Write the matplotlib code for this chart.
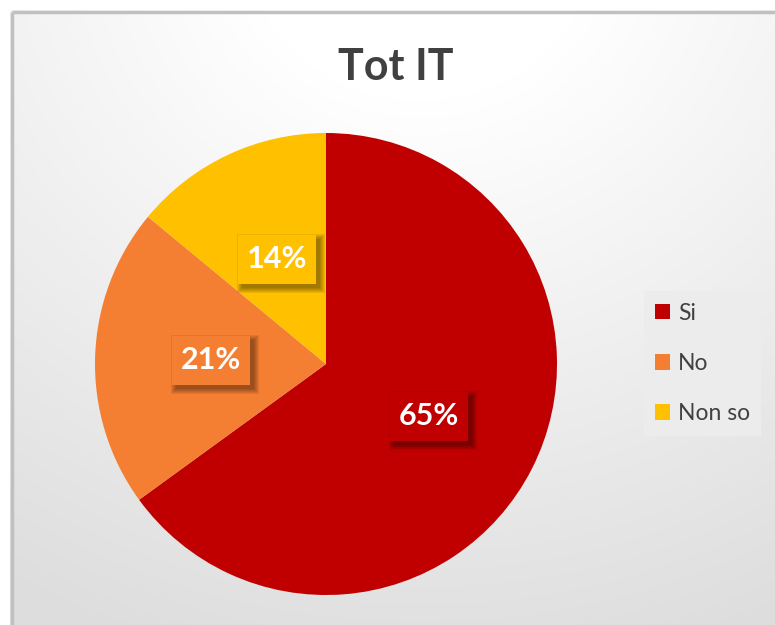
import numpy as np
import matplotlib
matplotlib.use("Agg")
import matplotlib.pyplot as plt
from matplotlib.patches import Patch, Rectangle

plt.rcParams['font.family'] = ['Lato', 'DejaVu Sans']

title = "Tot IT"
categories = ["Si", "No", "Non so"]
values = [65, 21, 14]
colors = ["#C00000", "#F47E32", "#FFC000"]

W, H = 775, 625
fig = plt.figure(figsize=(W / 100, H / 100), dpi=100)

# background gradient
bg = fig.add_axes([0, 0, 1, 1])
yy, xx = np.mgrid[0:H, 0:W]
d = np.sqrt(((xx - 420) / 700.0) ** 2 + ((yy + 60) / 640.0) ** 2)
v = np.clip(1.0 - 0.13 * np.clip(d - 0.25, 0, None) / 0.9, 0.87, 1.0)
img = np.dstack([v, v, v])
img[:, :10] = 1.0
img[:10, :] = 1.0
bg.imshow(img, extent=[0, W, H, 0], aspect='auto', interpolation='bilinear')
bg.plot([11.5, 11.5], [H, 11.5], color="#c0c0c0", lw=2.5, solid_capstyle='butt')
bg.plot([11.5, W], [11.5, 11.5], color="#c0c0c0", lw=2.5, solid_capstyle='butt')
bg.set_xlim(0, W)
bg.set_ylim(H, 0)
bg.axis('off')

fig.text(396 / W, 1 - 67 / H, title, ha='center', va='center',
         fontsize=31, fontweight='bold', color='#404040')

cx, cy, r = 326, 364, 231
ax = fig.add_axes([(cx - r) / W, (H - cy - r) / H, 2 * r / W, 2 * r / H])
wedges, _ = ax.pie(values, colors=colors, startangle=90, counterclock=False,
                   radius=1.0, wedgeprops=dict(linewidth=0))
ax.set_xlim(-1, 1)
ax.set_ylim(-1, 1)
ax.set_aspect('equal')
ax.axis('off')

px = 1.0 / r  # one pixel in data units
bw, bh = 78 * px, 49 * px
total = sum(values)
start = 90.0
for val, col in zip(values, colors):
    ang = start - val / total * 360 / 2
    start -= val / total * 360
    x = 0.5 * np.cos(np.radians(ang))
    y = 0.5 * np.sin(np.radians(ang))
    # soft shadow
    ox, oy = 4 * px, -4 * px
    for k in range(6):
        g = (5 - k) * px
        ax.add_patch(Rectangle((x - bw / 2 + ox - g, y - bh / 2 + oy - g),
                               bw + 2 * g, bh + 2 * g, fc=(0, 0, 0, 0.07), ec='none',
                               zorder=3))
    ax.add_patch(Rectangle((x - bw / 2, y - bh / 2), bw, bh, fc=col, ec='none', zorder=4))
    ax.text(x, y, f"{val}%", ha='center', va='center', fontsize=22, fontweight='bold',
            color='white', zorder=5)

handles = [Patch(facecolor=c, edgecolor='none', label=l) for c, l in zip(colors, categories)]
leg = fig.legend(handles=handles, loc='center', bbox_to_anchor=(702.5 / W, 1 - 363.5 / H),
                 frameon=True, fontsize=16.5, handlelength=0.65, handleheight=0.65,
                 handletextpad=0.35, labelspacing=1.27, borderpad=0.5, fancybox=False,
                 borderaxespad=0)
leg.get_frame().set_facecolor('#ececec')
leg.get_frame().set_edgecolor('none')
leg.get_frame().set_alpha(1)
for t in leg.get_texts():
    t.set_color('#404040')

fig.savefig("out.png", dpi=100)
